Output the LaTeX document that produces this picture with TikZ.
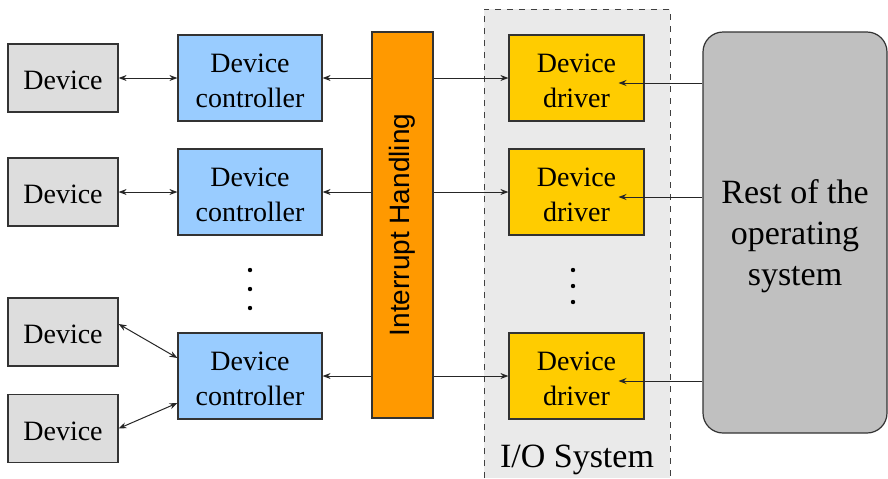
\documentclass[tikz,border=0pt]{standalone}
\usepackage{fontspec}
\setmainfont{Liberation Serif}
\newfontfamily\intrfont{Liberation Sans}
\usetikzlibrary{arrows.meta}
\definecolor{devgray}{HTML}{DDDDDD}
\definecolor{ctlblue}{HTML}{99CCFF}
\definecolor{intorange}{HTML}{FF9900}
\definecolor{drvyellow}{HTML}{FFCC00}
\definecolor{restgray}{HTML}{C0C0C0}
\definecolor{iogray}{HTML}{EAEAEA}
\newcommand{\lift}[1]{\rule{0pt}{#1}}
\tikzset{
  box/.style={draw=black!80, line width=0.6pt, inner sep=0pt, align=center,
    font=\fontsize{14}{17.5}\selectfont},
  devbox/.style={box, fill=devgray, minimum width=55pt, minimum height=34pt},
  ctlbox/.style={box, fill=ctlblue, minimum width=72pt, minimum height=43pt},
  drvbox/.style={box, fill=drvyellow, minimum width=67.5pt, minimum height=43pt},
  link/.style={line width=0.5pt, black!85, -{Stealth[length=4pt,width=3pt]}},
  duplex/.style={line width=0.5pt, black!85, {Stealth[length=4pt,width=3pt]}-{Stealth[length=4pt,width=3pt]}}
}
\begin{document}
\begin{tikzpicture}[x=0.5pt, y=-0.5pt]
			%%%%% FRAME %%%%%
			\useasboundingbox (0, 0) rectangle (888, 478);
			\fill[iogray] (484, 9) rectangle (670, 478);
			\draw[dashed, line width=0.5pt, black!75] (484, 478) -- (484, 9) -- (670, 9) -- (670, 478);
			\node[font=\fontsize{17}{20.5}\selectfont] (iolabel) at (577, 460) {I/O System};
			
			%%%%% DEVICES %%%%%
			\node[devbox] (dev1) at (63, 78) {\lift{11.8pt}Device};
			\node[devbox] (dev2) at (63, 192) {\lift{11.8pt}Device};
			\node[devbox] (dev3) at (63, 332) {\lift{11.8pt}Device};
			\node[devbox] (dev4) at (63, 428.5) {\lift{11.8pt}Device};
			
			%%%%% CONTROLLERS %%%%%
			\node[ctlbox] (ctl1) at (250, 78) {\lift{11.8pt}Device\\controller};
			\node[ctlbox] (ctl2) at (250, 192) {\lift{11.8pt}Device\\controller};
			\node[ctlbox] (ctl3) at (250, 376) {\lift{11.8pt}Device\\controller};
			
			%%%%% INTERRUPTS %%%%%
			\node[box, fill=intorange, minimum width=30.5pt, minimum height=193pt] (intr) at (402.5, 225) {};
			\node[rotate=90, inner sep=0pt, font=\intrfont\fontsize{14}{17}\selectfont] (intrlabel)
				at (intr.center) {Interrupt Handling};
			
			%%%%% DRIVERS %%%%%
			\node[drvbox] (drv1) at (576.5, 78) {\lift{11.8pt}Device\\driver};
			\node[drvbox] (drv2) at (576.5, 192) {\lift{11.8pt}Device\\driver};
			\node[drvbox] (drv3) at (576.5, 376) {\lift{11.8pt}Device\\driver};
			
			%%%%% REST %%%%%
			\node[box, fill=restgray, rounded corners=10pt, minimum width=92pt, minimum height=200.5pt,
				font=\fontsize{17}{20.5}\selectfont]
				(rest) at (795, 232.5) {\lift{15.9pt}Rest of the\\operating\\system};
			
			%%%%% DOTS %%%%%
			\foreach \y in {270, 289, 308} \fill (250, \y) circle (1.1pt);
			\foreach \y in {270, 286, 302} \fill (573, \y) circle (1.1pt);
			
			%%%%% LINKS %%%%%
			\draw[duplex] (dev1) -- (ctl1);
			\draw[duplex] (dev2) -- (ctl2);
			\draw[duplex] ([yshift=4pt]dev3.east) -- ([yshift=9pt]ctl3.west);
			\draw[duplex] (dev4.east) -- ([yshift=-13.5pt]ctl3.west);
			
			\foreach \n in {1, 2, 3} {
				\draw[link] (intr.west |- ctl\n.east) -- (ctl\n.east);
				\draw[link] (intr.east |- drv\n.west) -- (drv\n.west);
				\coordinate (in\n) at ([xshift=21pt, yshift=-2.5pt]drv\n.center);
				\draw[link] (rest.west |- in\n) -- (in\n);
			}
			
		\end{tikzpicture}
\end{document}
